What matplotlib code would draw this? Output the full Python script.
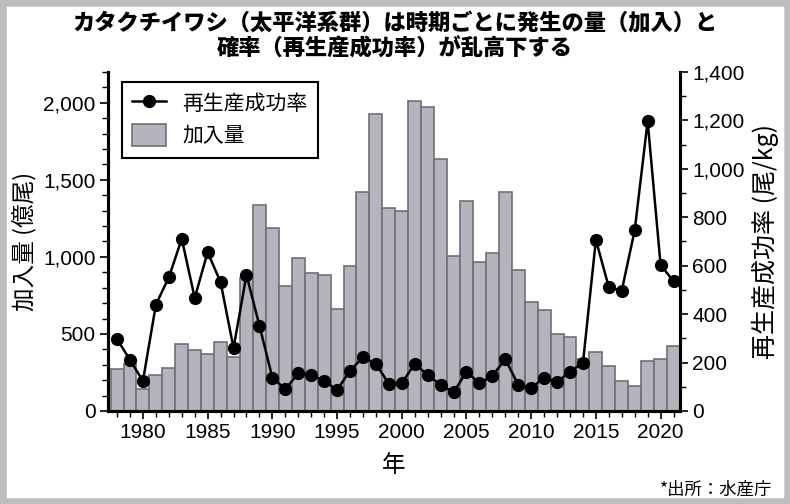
import matplotlib
matplotlib.use("Agg")
import matplotlib.pyplot as plt
from matplotlib.ticker import FuncFormatter, MultipleLocator
from matplotlib.lines import Line2D
from matplotlib.patches import Patch, Rectangle

plt.rcParams['font.family'] = ['Liberation Sans', 'Noto Sans CJK JP', 'DejaVu Sans']
JP = ['Noto Sans CJK JP', 'DejaVu Sans']

years = list(range(1978, 2022))
recruitment = [271, 305, 143, 234, 277, 433, 396, 370, 450, 353,
               862, 1338, 1190, 814, 992, 894, 881, 662, 944, 1418,
               1929, 1320, 1299, 2011, 1970, 1634, 1006, 1366, 968, 1024,
               1420, 913, 708, 654, 498, 481, 335, 381, 294, 195,
               160, 327, 335, 422]
rps = [297, 211, 124, 439, 552, 711, 467, 656, 532, 260,
       562, 353, 138, 90, 155, 149, 124, 87, 166, 222,
       195, 112, 115, 195, 149, 108, 77, 162, 115, 145,
       214, 108, 94, 138, 119, 163, 198, 707, 511, 497,
       747, 1197, 603, 536]

title = "カタクチイワシ（太平洋系群）は時期ごとに発生の量（加入）と\n確率（再生産成功率）が乱高下する"
left_label = "加入量 (億尾)"
right_label = "再生産成功率 (尾/kg)"
x_label = "年"
legend_line = "再生産成功率"
legend_bar = "加入量"
source = "*出所：水産庁"

fig = plt.figure(figsize=(7.9, 5.04), dpi=100)
fig.patches.append(Rectangle((0, 0), 1, 1, transform=fig.transFigure,
                             fill=False, edgecolor='#bdbdbd', linewidth=9, zorder=10))

ax = fig.add_axes([108/790, 1-411/504, (680-108)/790, (411-72)/504])
ax2 = ax.twinx()

bar_color = '#b5b4bd'
edge_color = '#6f6f78'
ax.bar(years, recruitment, width=1.0, color=bar_color, edgecolor=edge_color, linewidth=1.2)
ax2.plot(years, rps, color='black', linewidth=1.8, marker='o', markersize=8.5)

ax.set_xlim(1977.3, 2021.5)
ax2.set_ylim(0, 1400)

ax.xaxis.set_major_locator(MultipleLocator(5))
ax.xaxis.set_minor_locator(MultipleLocator(1))
ax.yaxis.set_major_locator(MultipleLocator(500))
ax.yaxis.set_minor_locator(MultipleLocator(100))
ax2.yaxis.set_major_locator(MultipleLocator(200))
ax2.yaxis.set_minor_locator(MultipleLocator(100))

fmt = FuncFormatter(lambda v, p: f"{v:,.0f}")
ax.yaxis.set_major_formatter(fmt)
ax2.yaxis.set_major_formatter(fmt)

for a in (ax, ax2):
    a.spines['top'].set_visible(False)
    for s in ('left', 'right', 'bottom'):
        a.spines[s].set_linewidth(2.2)
    a.tick_params(which='major', direction='out', length=6, width=1.2, labelsize=15, pad=3)
    a.tick_params(which='minor', direction='out', length=4, width=1.0)
ax.set_yticks([0, 500, 1000, 1500, 2000])
ax.set_ylim(0, 2200)

ax.set_xlabel(x_label, fontsize=17, family=JP, labelpad=8)
ax.set_ylabel(left_label, fontsize=17, family=JP, labelpad=4)
ax2.set_ylabel(right_label, fontsize=18, family=JP, labelpad=5)

fig.text(0.5, 0.975, title, ha='center', va='top', fontsize=16, fontweight='heavy',
         family=JP, linespacing=1.12)
fig.text(772/790, 1-490/504, source, ha='right', va='center', fontsize=12.5, family=JP)

handles = [Line2D([0], [0], color='black', linewidth=1.8, marker='o', markersize=8.5),
           Patch(facecolor=bar_color, edgecolor=edge_color, linewidth=1.2)]
leg = ax2.legend(handles, [legend_line, legend_bar], loc='upper left',
                 bbox_to_anchor=((122-108)/572, (411-82)/339), borderaxespad=0,
                 prop={'family': JP, 'size': 15},
                 fancybox=False, edgecolor='black', framealpha=1,
                 handlelength=1.6, handleheight=1.2, borderpad=0.5, labelspacing=0.45,
                 handletextpad=0.8)
leg.get_frame().set_linewidth(1.5)

fig.savefig("out.png", dpi=100)
